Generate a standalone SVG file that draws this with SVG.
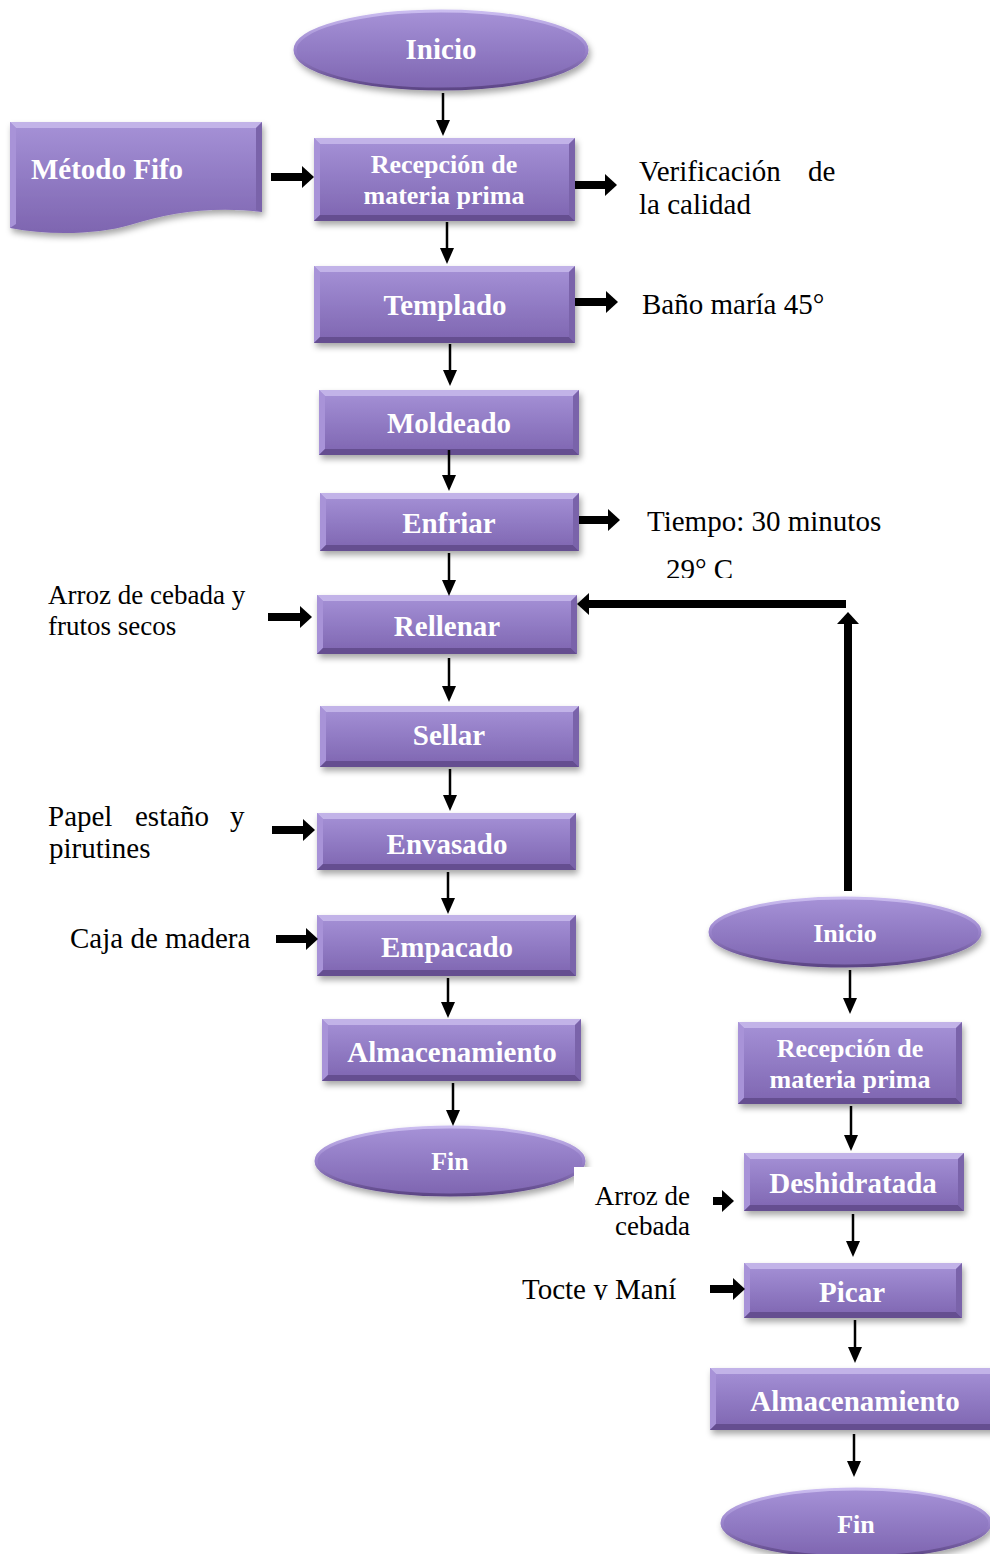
<svg xmlns="http://www.w3.org/2000/svg" width="990" height="1554" viewBox="0 0 990 1554">
  <defs>
    <style>
      .box { fill: url(#body); filter: url(#shadow); }
      .oval { fill: url(#body); stroke: url(#rim); stroke-width: 3; filter: url(#shadow); }
      .bt { fill: #c2b3e8; }
      .bl { fill: #a893d8; }
      .bb { fill: #654e90; }
      .br { fill: #7a63aa; }
      .nt { font-family: "Liberation Serif", "Times New Roman", serif; font-weight: bold; font-size: 29px; fill: #ffffff; text-anchor: middle; }
      .nt.sm { font-size: 26px; }
      .lb { font-family: "Liberation Serif", "Times New Roman", serif; font-size: 29px; fill: #000000; }
      .lb.sm { font-size: 27px; }
      .thin { stroke: #000; stroke-width: 2.5; fill: none; marker-end: url(#headThin); }
      .thick { stroke: #000; stroke-width: 8; fill: none; marker-end: url(#headThick); }
    </style>
    <linearGradient id="body" x1="0" y1="0" x2="0" y2="1">
      <stop offset="0" stop-color="#a692d7"/>
      <stop offset="0.5" stop-color="#917bc4"/>
      <stop offset="1" stop-color="#7e65b0"/>
    </linearGradient>
    <linearGradient id="rim" x1="0" y1="0" x2="0" y2="1">
      <stop offset="0" stop-color="#cbbdf0"/>
      <stop offset="0.5" stop-color="#9a84cc"/>
      <stop offset="1" stop-color="#5c4585"/>
    </linearGradient>
    <filter id="shadow" x="-10%" y="-20%" width="125%" height="150%">
      <feDropShadow dx="2" dy="4" stdDeviation="3" flood-color="#000" flood-opacity="0.35"/>
    </filter>
    <marker id="headThin" markerUnits="userSpaceOnUse" markerWidth="16" markerHeight="14" refX="0" refY="7" orient="auto">
      <path d="M0,0 L16,7 L0,14 Z" fill="#000"/>
    </marker>
    <marker id="headThick" markerUnits="userSpaceOnUse" markerWidth="12" markerHeight="22" refX="0" refY="11" orient="auto">
      <path d="M0,0 L12,11 L0,22 Z" fill="#000"/>
    </marker>
    <clipPath id="cutTemp"><rect x="600" y="540" width="250" height="38"/></clipPath>
    <clipPath id="cutTocte"><rect x="500" y="1260" width="200" height="40"/></clipPath>
  </defs>

  <rect width="990" height="1554" fill="#ffffff"/>

  <!-- main line -->
  <g id="inicio-1">
    <ellipse class="oval" cx="441" cy="50" rx="146" ry="39"/>
    <text class="nt" x="441" y="59">Inicio</text>
  </g>

  <g id="metodo-fifo">
    <path class="box" d="M10,122 H262 V212 C215,206 170,212 130,225 C100,234 50,236 10,228 Z"/>
    <path class="bt" d="M10,122 H262 L256,128 H16 Z"/>
    <path class="bl" d="M10,122 L16,128 V224 L10,228 Z"/>
    <path class="br" d="M262,122 V212 L256,210 V128 Z"/>
    <text class="nt" x="107" y="179">Método Fifo</text>
  </g>

  <g id="recepcion-1" transform="translate(314,138)">
    <rect class="box" width="261" height="83"/>
    <path class="bt" d="M0,0H261L255,6H6Z"/><path class="bl" d="M0,0L6,6V77L0,83Z"/>
    <path class="bb" d="M0,83L6,77H255L261,83Z"/><path class="br" d="M261,0V83L255,77V6Z"/>
    <text class="nt sm" x="130" y="35">Recepción de</text>
    <text class="nt sm" x="130" y="66">materia prima</text>
  </g>

  <g id="templado" transform="translate(314,266)">
    <rect class="box" width="261" height="77"/>
    <path class="bt" d="M0,0H261L255,6H6Z"/><path class="bl" d="M0,0L6,6V71L0,77Z"/>
    <path class="bb" d="M0,77L6,71H255L261,77Z"/><path class="br" d="M261,0V77L255,71V6Z"/>
    <text class="nt" x="131" y="49">Templado</text>
  </g>

  <g id="moldeado" transform="translate(319,390)">
    <rect class="box" width="260" height="65"/>
    <path class="bt" d="M0,0H260L254,6H6Z"/><path class="bl" d="M0,0L6,6V59L0,65Z"/>
    <path class="bb" d="M0,65L6,59H254L260,65Z"/><path class="br" d="M260,0V65L254,59V6Z"/>
    <text class="nt" x="130" y="43">Moldeado</text>
  </g>

  <g id="enfriar" transform="translate(320,493)">
    <rect class="box" width="259" height="58"/>
    <path class="bt" d="M0,0H259L253,6H6Z"/><path class="bl" d="M0,0L6,6V52L0,58Z"/>
    <path class="bb" d="M0,58L6,52H253L259,58Z"/><path class="br" d="M259,0V58L253,52V6Z"/>
    <text class="nt" x="129" y="40">Enfriar</text>
  </g>

  <g id="rellenar" transform="translate(317,595)">
    <rect class="box" width="260" height="59"/>
    <path class="bt" d="M0,0H260L254,6H6Z"/><path class="bl" d="M0,0L6,6V53L0,59Z"/>
    <path class="bb" d="M0,59L6,53H254L260,59Z"/><path class="br" d="M260,0V59L254,53V6Z"/>
    <text class="nt" x="130" y="41">Rellenar</text>
  </g>

  <g id="sellar" transform="translate(320,706)">
    <rect class="box" width="259" height="61"/>
    <path class="bt" d="M0,0H259L253,6H6Z"/><path class="bl" d="M0,0L6,6V55L0,61Z"/>
    <path class="bb" d="M0,61L6,55H253L259,61Z"/><path class="br" d="M259,0V61L253,55V6Z"/>
    <text class="nt" x="129" y="39">Sellar</text>
  </g>

  <g id="envasado" transform="translate(317,813)">
    <rect class="box" width="259" height="57"/>
    <path class="bt" d="M0,0H259L253,6H6Z"/><path class="bl" d="M0,0L6,6V51L0,57Z"/>
    <path class="bb" d="M0,57L6,51H253L259,57Z"/><path class="br" d="M259,0V57L253,51V6Z"/>
    <text class="nt" x="130" y="41">Envasado</text>
  </g>

  <g id="empacado" transform="translate(317,915)">
    <rect class="box" width="259" height="61"/>
    <path class="bt" d="M0,0H259L253,6H6Z"/><path class="bl" d="M0,0L6,6V55L0,61Z"/>
    <path class="bb" d="M0,61L6,55H253L259,61Z"/><path class="br" d="M259,0V61L253,55V6Z"/>
    <text class="nt" x="130" y="42">Empacado</text>
  </g>

  <g id="almacenamiento-1" transform="translate(322,1019)">
    <rect class="box" width="259" height="62"/>
    <path class="bt" d="M0,0H259L253,6H6Z"/><path class="bl" d="M0,0L6,6V56L0,62Z"/>
    <path class="bb" d="M0,62L6,56H253L259,62Z"/><path class="br" d="M259,0V62L253,56V6Z"/>
    <text class="nt" x="130" y="43">Almacenamiento</text>
  </g>

  <g id="fin-1">
    <ellipse class="oval" cx="450" cy="1161" rx="134" ry="34"/>
    <text class="nt sm" x="450" y="1170">Fin</text>
  </g>

  <!-- filling line -->
  <g id="inicio-2">
    <ellipse class="oval" cx="845" cy="932" rx="135" ry="34"/>
    <text class="nt sm" x="845" y="942">Inicio</text>
  </g>

  <g id="recepcion-2" transform="translate(738,1022)">
    <rect class="box" width="224" height="82"/>
    <path class="bt" d="M0,0H224L218,6H6Z"/><path class="bl" d="M0,0L6,6V76L0,82Z"/>
    <path class="bb" d="M0,82L6,76H218L224,82Z"/><path class="br" d="M224,0V82L218,76V6Z"/>
    <text class="nt sm" x="112" y="35">Recepción de</text>
    <text class="nt sm" x="112" y="66">materia prima</text>
  </g>

  <g id="deshidratada" transform="translate(744,1153)">
    <rect class="box" width="220" height="58"/>
    <path class="bt" d="M0,0H220L214,6H6Z"/><path class="bl" d="M0,0L6,6V52L0,58Z"/>
    <path class="bb" d="M0,58L6,52H214L220,58Z"/><path class="br" d="M220,0V58L214,52V6Z"/>
    <text class="nt" x="109" y="40">Deshidratada</text>
  </g>

  <g id="picar" transform="translate(744,1263)">
    <rect class="box" width="218" height="55"/>
    <path class="bt" d="M0,0H218L212,6H6Z"/><path class="bl" d="M0,0L6,6V49L0,55Z"/>
    <path class="bb" d="M0,55L6,49H212L218,55Z"/><path class="br" d="M218,0V55L212,49V6Z"/>
    <text class="nt" x="108" y="39">Picar</text>
  </g>

  <g id="almacenamiento-2" transform="translate(710,1368)">
    <rect class="box" width="290" height="62"/>
    <path class="bt" d="M0,0H290L284,6H6Z"/><path class="bl" d="M0,0L6,6V56L0,62Z"/>
    <path class="bb" d="M0,62L6,56H284L290,62Z"/><path class="br" d="M290,0V62L284,56V6Z"/>
    <text class="nt" x="145" y="43">Almacenamiento</text>
  </g>

  <g id="fin-2">
    <ellipse class="oval" cx="856" cy="1523" rx="134" ry="34"/>
    <text class="nt sm" x="856" y="1533">Fin</text>
  </g>

  <!-- side notes -->
  <g id="notes">
    <text class="lb" y="181"><tspan x="639">Verificación</tspan><tspan x="808">de</tspan></text>
    <text class="lb" x="639" y="214">la calidad</text>
    <text class="lb" x="642" y="314">Baño maría 45°</text>
    <text class="lb" x="647" y="531">Tiempo: 30 minutos</text>
    <text class="lb" x="666" y="579" clip-path="url(#cutTemp)">29° C</text>
    <text class="lb sm" x="48" y="604">Arroz de cebada y</text>
    <text class="lb sm" x="48" y="635">frutos secos</text>
    <text class="lb" y="826"><tspan x="48">Papel</tspan><tspan x="135">estaño</tspan><tspan x="230">y</tspan></text>
    <text class="lb" x="49" y="858">pirutines</text>
    <text class="lb" x="70" y="948">Caja de madera</text>
    <rect x="574" y="1167" width="120" height="40" fill="#ffffff"/>
    <text class="lb sm" x="690" y="1205" text-anchor="end">Arroz de</text>
    <text class="lb sm" x="690" y="1235" text-anchor="end">cebada</text>
    <text class="lb" x="522" y="1299" clip-path="url(#cutTocte)">Tocte y Maní</text>
  </g>

  <!-- connectors -->
  <g id="connectors">
    <line class="thin" x1="443" y1="93" x2="443" y2="120"/>
    <line class="thin" x1="447" y1="222" x2="447" y2="248"/>
    <line class="thin" x1="450" y1="344" x2="450" y2="370"/>
    <line class="thin" x1="449" y1="450" x2="449" y2="475"/>
    <line class="thin" x1="449" y1="553" x2="449" y2="580"/>
    <line class="thin" x1="449" y1="658" x2="449" y2="686"/>
    <line class="thin" x1="450" y1="769" x2="450" y2="795"/>
    <line class="thin" x1="448" y1="872" x2="448" y2="898"/>
    <line class="thin" x1="448" y1="978" x2="448" y2="1002"/>
    <line class="thin" x1="453" y1="1083" x2="453" y2="1110"/>
    <line class="thin" x1="850" y1="970" x2="850" y2="998"/>
    <line class="thin" x1="851" y1="1106" x2="851" y2="1135"/>
    <line class="thin" x1="853" y1="1214" x2="853" y2="1241"/>
    <line class="thin" x1="855" y1="1320" x2="855" y2="1347"/>
    <line class="thin" x1="854" y1="1434" x2="854" y2="1461"/>

    <line class="thick" x1="271" y1="177" x2="302" y2="177"/>
    <line class="thick" x1="575" y1="185" x2="605" y2="185"/>
    <line class="thick" x1="575" y1="302" x2="606" y2="302"/>
    <line class="thick" x1="579" y1="520" x2="608" y2="520"/>
    <line class="thick" x1="268" y1="617" x2="300" y2="617"/>
    <line class="thick" x1="272" y1="830" x2="303" y2="830"/>
    <line class="thick" x1="276" y1="939" x2="306" y2="939"/>
    <line class="thick" x1="713" y1="1201" x2="722" y2="1201"/>
    <line class="thick" x1="710" y1="1289" x2="733" y2="1289"/>

    <line class="thick" x1="848" y1="891" x2="848" y2="624"/>
    <line class="thick" x1="846" y1="604" x2="589" y2="604"/>
  </g>
</svg>
